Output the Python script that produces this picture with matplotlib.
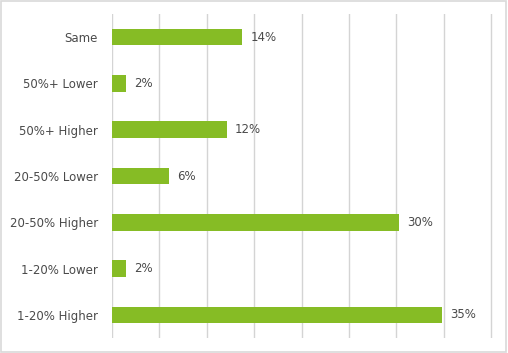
import matplotlib
matplotlib.use("Agg")
import matplotlib.pyplot as plt
from matplotlib.patches import Rectangle

categories = ["1-20% Higher", "1-20% Lower", "20-50% Higher", "20-50% Lower",
              "50%+ Higher", "50%+ Lower", "Same"]
values = [34.8, 1.5, 30.3, 6.0, 12.1, 1.5, 13.7]
labels = ["35%", "2%", "30%", "6%", "12%", "2%", "14%"]

bar_color = "#86BC25"
text_color = "#4a4a4a"

fig = plt.figure(figsize=(5.08, 3.53), dpi=100)
ax = fig.add_axes([112 / 508, 15 / 353, 381 / 508, 324 / 353])

ypos = list(range(len(categories)))
ax.barh(ypos, values, height=0.36, color=bar_color, zorder=3)
for y, v, lab in zip(ypos, values, labels):
    ax.annotate(lab, (v, y), xytext=(6, 0), textcoords="offset points",
                va="center", ha="left", fontsize=8.5, color=text_color)

ax.set_xlim(0, 40.2)
ax.set_ylim(-0.5, len(categories) - 0.5)
ax.set_xticks(range(0, 41, 5))
ax.set_xticklabels([])
ax.set_yticks(ypos)
ax.set_yticklabels(categories, fontsize=8.5, color=text_color)
ax.tick_params(length=0, pad=10)
ax.grid(axis="x", color="#d4d4d4", linewidth=1.0, zorder=0)
for s in ax.spines.values():
    s.set_visible(False)

fig.patches.append(Rectangle((0.002, 0.003), 0.995, 0.994, transform=fig.transFigure,
                             fill=False, edgecolor="#d9d9d9", linewidth=1.2))

fig.savefig("out.png", dpi=100)
